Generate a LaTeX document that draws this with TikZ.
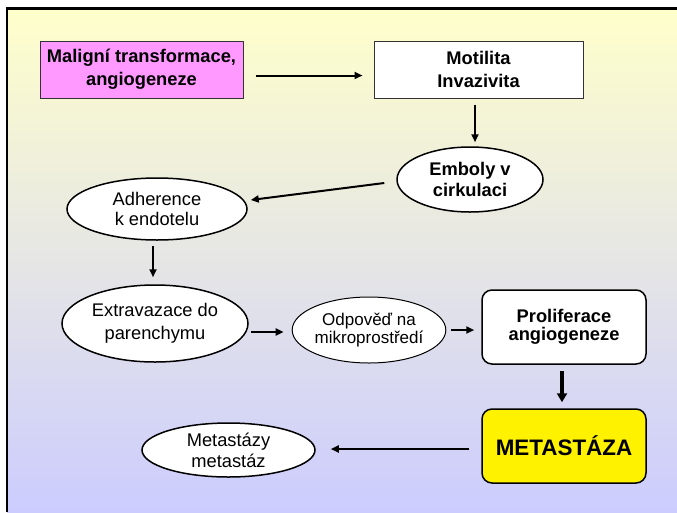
\documentclass[tikz,border=0pt]{standalone}
\usepackage{fontspec}
\setmainfont{Liberation Sans}
\usetikzlibrary{shapes.geometric,arrows.meta}
\definecolor{bgtop}{HTML}{FFFFCC}
\definecolor{bgbot}{HTML}{CCCCFF}
\definecolor{pinkfill}{HTML}{FF99FF}
\definecolor{edgegrey}{HTML}{333333}
\begin{document}
\begin{tikzpicture}[x=1pt,y=-1pt,
  box/.style={draw=edgegrey,line width=1pt,rectangle,inner sep=0pt,align=center,
    font=\bfseries\fontsize{18.3}{23}\selectfont},
  rbox/.style={draw=black,line width=1.5pt,rectangle,rounded corners=10pt,inner sep=0pt,align=center,fill=white,
    font=\bfseries\fontsize{18.3}{18.5}\selectfont},
  oval/.style={draw=black,line width=1.5pt,ellipse,inner sep=0pt,align=center,fill=white,
    font=\fontsize{18.3}{20.5}\selectfont},
  arr/.style={line width=2pt,-{Triangle[length=8pt,width=7pt]}},
  thickarr/.style={line width=3.5pt,-{Triangle[length=9pt,width=10pt]}}
]
\useasboundingbox (0,0) rectangle (677,512);
\fill[white] (0,0) rectangle (677,512);
\shade[top color=bgtop,bottom color=bgbot] (7,8.5) rectangle (677,512);
\draw[line width=2.5pt] (6,8.5) -- (677,8.5);
\draw[line width=2.5pt] (7.2,8) -- (7.2,512);

\node[box,fill=pinkfill,minimum width=203pt,minimum height=57pt] (mal) at (141.5,69.5) {Maligní transformace,\\angiogeneze};
\node[box,fill=white,minimum width=209pt,minimum height=57pt] (mot) at (478.5,69.5) {Motilita\\Invazivita};
\node[oval,minimum width=146pt,minimum height=65pt,font=\bfseries\fontsize{18.3}{21.7}\selectfont] (emb) at (470,179.5) {Emboly v\\cirkulaci};
\node[oval,minimum width=180pt,minimum height=62pt,font=\fontsize{18.3}{20}\selectfont] (adh) at (157,209) {Adherence\\k endotelu};
\node[oval,minimum width=186pt,minimum height=77pt,font=\fontsize{18.3}{23}\selectfont] (ext) at (155,323.5) {Extravazace do\\parenchymu};
\node[oval,minimum width=148pt,minimum height=66pt,line width=1pt,font=\fontsize{17}{18.5}\selectfont] (odp) at (369,330) {Odpověď na\\mikroprostředí};
\node[rbox,minimum width=164pt,minimum height=74pt] (pro) at (564,327) {Proliferace\\angiogeneze};
\node[rbox,fill=yellow,minimum width=164pt,minimum height=74pt,font=\bfseries\fontsize{22.4}{26}\selectfont] (met) at (564,446) {METASTÁZA};
\node[oval,minimum width=173pt,minimum height=54pt,font=\fontsize{18.3}{20.7}\selectfont] (mz) at (228.5,450) {Metastázy\\metastáz};

\draw[arr,shorten <=12pt,shorten >=11pt] ([yshift=-6pt]mal.east) -- ([yshift=-6pt]mot.west);
\draw[arr,shorten <=6pt,shorten >=4pt] ([xshift=-3.5pt]mot.south) -- ([xshift=5pt]emb.north);
\draw[arr] ([xshift=-12pt,yshift=-3.5pt]emb.west) -- ([xshift=3pt,yshift=9pt]adh.east);
\draw[arr,shorten <=5pt,shorten >=7pt] ([xshift=-4pt]adh.south) -- ([xshift=-2pt]ext.north);
\draw[arr,shorten <=2pt,shorten >=8pt] ([yshift=-8.5pt]ext.east) -- ([yshift=-2pt]odp.west);
\draw[arr,shorten <=5pt,shorten >=7pt] (odp.east) -- ([yshift=-3pt]pro.west);
\draw[thickarr,shorten <=6pt,shorten >=6pt] ([xshift=-2pt]pro.south) -- ([xshift=-2pt]met.north);
\draw[arr,shorten <=12pt,shorten >=15pt] ([yshift=-3pt]met.west) -- ([yshift=1pt]mz.east);
\end{tikzpicture}
\end{document}
